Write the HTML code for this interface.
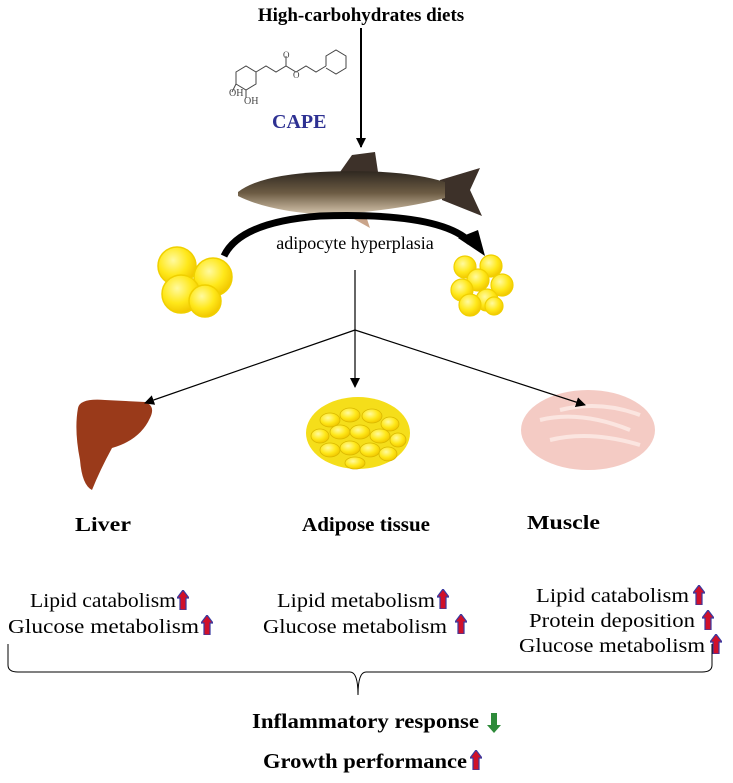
<!DOCTYPE html>
<html><head><style>body{margin:0;background:#fff}svg{display:block}</style></head><body>
<svg width="733" height="783" viewBox="0 0 733 783" xmlns="http://www.w3.org/2000/svg" font-family="Liberation Serif, serif">
<defs>
<symbol id="up" viewBox="0 0 12 20"><path d="M6 0 L12 8 L9 8 L9 20 L3 20 L3 8 L0 8 Z" fill="#d0102a" stroke="#3a3aa0" stroke-width="1.2"/></symbol>
<radialGradient id="cell" cx="40%" cy="35%" r="65%"><stop offset="0" stop-color="#fffaa0"/><stop offset="0.6" stop-color="#ffe81a"/><stop offset="1" stop-color="#f2c800"/></radialGradient>
<linearGradient id="fish" x1="0" y1="0" x2="0" y2="1"><stop offset="0" stop-color="#2f2820"/><stop offset="0.5" stop-color="#6d5c44"/><stop offset="1" stop-color="#d8c8b0"/></linearGradient>
<marker id="ah" markerWidth="10" markerHeight="10" refX="9" refY="5" orient="auto" markerUnits="userSpaceOnUse"><path d="M0 0 L10 5 L0 10 Z" fill="#000"/></marker>
</defs>
<text x="361" y="21" text-anchor="middle" font-size="19" font-weight="bold">High-carbohydrates diets</text>
<line x1="361" y1="28" x2="361" y2="147" stroke="#000" stroke-width="2" marker-end="url(#ah)"/>
<g stroke="#444" stroke-width="1" fill="none">
<path d="M236 72 L246 66 L256 72 L256 84 L246 90 L236 84 Z"/>
<path d="M256 72 L266 66 L276 72 L286 66 L296 72 L306 66 L316 72 L326 66"/>
<path d="M286 66 L286 56"/><path d="M326 66 L326 56 L336 50 L346 56 L346 68 L336 74 L326 68"/>
<path d="M236 84 L232 92"/><path d="M246 90 L246 98"/>
</g>
<text x="283" y="58" font-size="9" fill="#444">O</text>
<text x="293" y="78" font-size="9" fill="#444">O</text>
<text x="229" y="96" font-size="10" fill="#444">OH</text>
<text x="244" y="104" font-size="10" fill="#444">OH</text>
<text x="272" y="128" font-size="20" font-weight="bold" fill="#2e3192">CAPE</text>
<path d="M340 172 L352 155 L375 152 L378 172 Z" fill="#3d3129"/>
<path d="M440 180 L480 168 L470 190 L482 216 L442 200 Z" fill="#3d3129"/>
<path d="M238 192 Q260 175 320 172 Q400 168 445 182 L445 198 Q400 210 330 215 Q270 212 238 196 Z" fill="url(#fish)"/>
<path d="M345 214 L370 228 L365 213 Z" fill="#c9a48a"/>
<path d="M224 256 Q240 222 320 216 Q440 212 470 242" stroke="#000" stroke-width="7" fill="none"/>
<path d="M458 238 L485 256 L478 230 Z" fill="#000"/>
<text x="355" y="249" text-anchor="middle" font-size="18">adipocyte hyperplasia</text>
<g fill="url(#cell)" stroke="#f0d000" stroke-width="1.5">
<circle cx="177" cy="266" r="19"/><circle cx="213" cy="277" r="19"/><circle cx="181" cy="294" r="19"/><circle cx="205" cy="301" r="16"/>
</g>
<g fill="url(#cell)" stroke="#f0d000" stroke-width="1.2">
<circle cx="465" cy="267" r="11"/><circle cx="491" cy="266" r="11"/><circle cx="478" cy="280" r="11"/><circle cx="502" cy="285" r="11"/><circle cx="462" cy="290" r="11"/><circle cx="487" cy="300" r="11"/><circle cx="470" cy="305" r="11"/><circle cx="494" cy="306" r="9"/>
</g>
<path d="M78 408 Q80 398 105 400 L145 402 Q156 406 150 418 Q140 440 112 448 Q100 470 92 490 Q82 485 80 460 Q74 430 78 408 Z" fill="#9a3a1a"/>
<ellipse cx="358" cy="433" rx="52" ry="36" fill="#f5de1a"/>
<g fill="url(#cell)" stroke="#d9b800" stroke-width="0.8">
<ellipse cx="330" cy="420" rx="10" ry="7"/><ellipse cx="350" cy="415" rx="10" ry="7"/><ellipse cx="372" cy="416" rx="10" ry="7"/><ellipse cx="390" cy="424" rx="9" ry="7"/>
<ellipse cx="320" cy="436" rx="9" ry="7"/><ellipse cx="340" cy="432" rx="10" ry="7"/><ellipse cx="360" cy="432" rx="10" ry="7"/><ellipse cx="380" cy="436" rx="10" ry="7"/><ellipse cx="398" cy="440" rx="8" ry="7"/>
<ellipse cx="330" cy="450" rx="10" ry="7"/><ellipse cx="350" cy="448" rx="10" ry="7"/><ellipse cx="370" cy="450" rx="10" ry="7"/><ellipse cx="388" cy="454" rx="9" ry="7"/><ellipse cx="355" cy="463" rx="10" ry="6"/>
</g>
<ellipse cx="588" cy="430" rx="67" ry="40" fill="#f4cbc4"/>
<path d="M540 420 Q580 410 630 430 M550 440 Q590 430 640 445 M560 410 Q600 400 640 415" stroke="#fbe5e0" stroke-width="4" fill="none"/>
<line x1="355" y1="270" x2="355" y2="330" stroke="#000" stroke-width="1.2"/>
<line x1="355" y1="330" x2="145" y2="403" stroke="#000" stroke-width="1.2" marker-end="url(#ah)"/>
<line x1="355" y1="330" x2="355" y2="387" stroke="#000" stroke-width="1.2" marker-end="url(#ah)"/>
<line x1="355" y1="330" x2="585" y2="405" stroke="#000" stroke-width="1.2" marker-end="url(#ah)"/>
<text x="75" y="531" font-size="20" font-weight="bold" textLength="56" lengthAdjust="spacingAndGlyphs">Liver</text>
<text x="302" y="531" font-size="20" font-weight="bold" textLength="128" lengthAdjust="spacingAndGlyphs">Adipose tissue</text>
<text x="527" y="529" font-size="20" font-weight="bold" textLength="73" lengthAdjust="spacingAndGlyphs">Muscle</text>
<g font-size="20">
<text x="30" y="607" textLength="146" lengthAdjust="spacingAndGlyphs">Lipid catabolism</text><use href="#up" x="177" y="590" width="12" height="20"/>
<text x="8" y="633" textLength="191" lengthAdjust="spacingAndGlyphs">Glucose metabolism</text><use href="#up" x="201" y="615" width="12" height="20"/>
<text x="277" y="607" textLength="158" lengthAdjust="spacingAndGlyphs">Lipid metabolism</text><use href="#up" x="437" y="589" width="12" height="20"/>
<text x="263" y="633" textLength="184" lengthAdjust="spacingAndGlyphs">Glucose metabolism</text><use href="#up" x="455" y="614" width="12" height="20"/>
<text x="536" y="602" textLength="153" lengthAdjust="spacingAndGlyphs">Lipid catabolism</text><use href="#up" x="693" y="585" width="12" height="20"/>
<text x="529" y="627" textLength="166" lengthAdjust="spacingAndGlyphs">Protein deposition</text><use href="#up" x="702" y="610" width="12" height="20"/>
<text x="519" y="652" textLength="186" lengthAdjust="spacingAndGlyphs">Glucose metabolism</text><use href="#up" x="710" y="634" width="12" height="20"/>
</g>
<path d="M8 644 L8 665 Q8 672 18 672 L350 672 Q358 672 358 695 Q358 672 366 672 L702 672 Q712 672 712 665 L712 644" stroke="#000" stroke-width="1" fill="none"/>
<text x="252" y="728" font-size="21" font-weight="bold" textLength="227" lengthAdjust="spacingAndGlyphs">Inflammatory response</text>
<path d="M491 713 L491 725 L487 725 L494 733 L501 725 L497 725 L497 713 Z" fill="#2e8b3a"/>
<text x="263" y="768" font-size="21" font-weight="bold" textLength="204" lengthAdjust="spacingAndGlyphs">Growth performance</text>
<use href="#up" x="470" y="750" width="12" height="20"/>
</svg>
</body></html>
